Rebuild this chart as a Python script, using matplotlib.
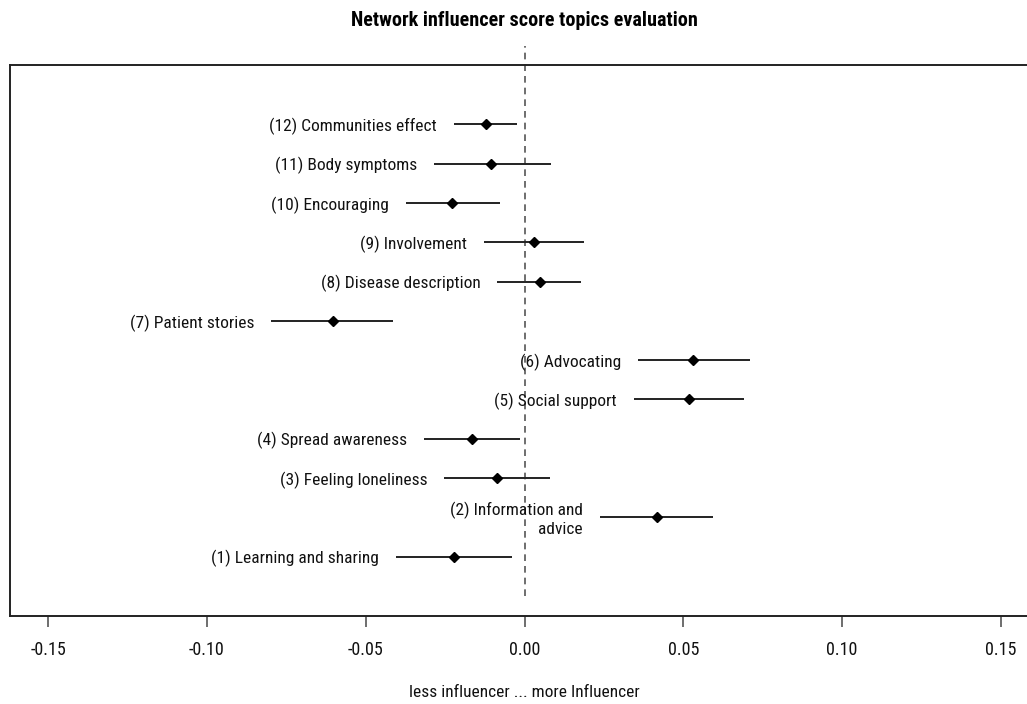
import matplotlib
matplotlib.use('Agg')
import matplotlib.pyplot as plt

# Topic labels, bottom (1) to top (12)
topics = [
    '(1) Learning and sharing',
    '(2) Information and\nadvice',
    '(3) Feeling loneliness',
    '(4) Spread awareness',
    '(5) Social support',
    '(6) Advocating',
    '(7) Patient stories',
    '(8) Disease description',
    '(9) Involvement',
    '(10) Encouraging',
    '(11) Body symptoms',
    '(12) Communities effect',
]
estimate = [-0.0223, 0.0416, -0.0088, -0.0166, 0.0518, 0.0531,
            -0.0602, 0.0048, 0.0030, -0.0229, -0.0105, -0.0122]
lower = [-0.0405, 0.0237, -0.0254, -0.0318, 0.0344, 0.0358,
         -0.0798, -0.0086, -0.0127, -0.0374, -0.0285, -0.0223]
upper = [-0.0038, 0.0592, 0.0081, -0.0015, 0.0692, 0.0709,
         -0.0413, 0.0178, 0.0187, -0.0076, 0.0085, -0.0025]
ticks = [-0.15, -0.10, -0.05, 0.00, 0.05, 0.10, 0.15]

plt.rcParams['font.family'] = ['Roboto Condensed', 'Liberation Sans Narrow', 'DejaVu Sans']
plt.rcParams['font.stretch'] = 'condensed'

fig = plt.figure(figsize=(10.27, 7.04), dpi=100)
ax = fig.add_axes([10 / 1027, 1 - 616 / 704, 1029 / 1027, 551 / 704])

ypos = list(range(1, len(topics) + 1))

# zero reference line, runs past the top of the box like in R
ax.plot([0, 0], [0, 14], color='#555555', lw=1.2, ls=(0, (4, 3)),
        clip_on=False, zorder=1)

ax.hlines(ypos, lower, upper, color='#222222', lw=1.4, zorder=2)
ax.plot(estimate, ypos, 'D', color='black', ms=5.5, zorder=3)

for y, lo, lab in zip(ypos, lower, topics):
    ax.annotate(lab, xy=(lo, y), xytext=(-12, -1.5), textcoords='offset points',
                ha='right', va='center', multialignment='right',
                fontsize=12.5, color='#111111')

ax.set_xlim(-0.162, 0.162)
ax.set_ylim(-0.51, 13.51)
ax.set_yticks([])
ax.set_xticks(ticks)
ax.set_xticklabels([f'{t:.2f}' for t in ticks])
ax.tick_params(axis='x', length=8, width=1.2, color='#555555',
               pad=10, labelsize=13, labelcolor='#111111')
for s in ax.spines.values():
    s.set_linewidth(1.4)
    s.set_color('#222222')

ax.set_xlabel('less influencer ... more Influencer', fontsize=12.5,
              labelpad=19, color='#111111')
fig.text(524 / 1027, 1 - 20 / 704, 'Network influencer score topics evaluation',
         ha='center', va='center', fontsize=14.5, fontweight='bold')

fig.savefig('out.png', dpi=100)
